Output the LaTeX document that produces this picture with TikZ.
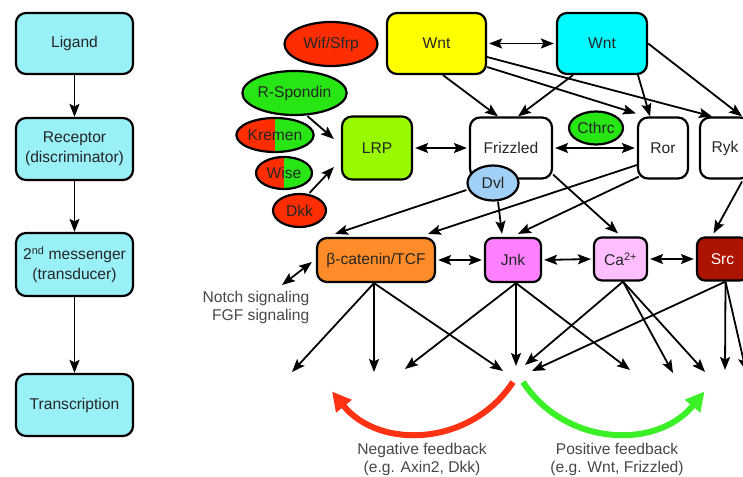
\documentclass[tikz,border=0pt]{standalone}
\usepackage{fontspec}
\setmainfont{Liberation Sans}
\usetikzlibrary{arrows.meta,shapes.geometric,calc}
\definecolor{cyanL}{RGB}{153,240,247}
\definecolor{yelW}{RGB}{255,255,0}
\definecolor{cyanW}{RGB}{0,250,255}
\definecolor{lrpG}{RGB}{153,250,0}
\definecolor{redE}{RGB}{255,45,0}
\definecolor{greenE}{RGB}{40,230,20}
\definecolor{dvlB}{RGB}{160,208,245}
\definecolor{orangeB}{RGB}{255,140,40}
\definecolor{jnkM}{RGB}{255,128,255}
\definecolor{caP}{RGB}{255,190,255}
\definecolor{srcR}{RGB}{170,20,0}
\definecolor{fbRed}{RGB}{255,50,20}
\definecolor{fbGreen}{RGB}{60,240,40}
\tikzset{
  myhead/.tip={Stealth[length=13pt,width=10pt,inset=2.5pt]},
  fbhead/.tip={Triangle[length=19pt,width=19pt]},
  txt/.style={font=\fontsize{15.6}{20}\selectfont, text=black!85},
  gtxt/.style={font=\fontsize{15.6}{18}\selectfont, text=black!72, align=center, inner sep=0pt},
  blk/.style={draw, line width=2.2pt, rounded corners=10pt, inner sep=0pt, align=center, txt},
  sblk/.style={blk, rounded corners=8pt},
  oval/.style={draw, ellipse, line width=2.2pt, inner sep=0pt, txt},
  halfoval/.style={oval, fill=redE, path picture={\fill[greenE] (path picture bounding box.north) rectangle (path picture bounding box.south east);}},
  conn/.style={line width=1.8pt, -myhead},
  dconn/.style={line width=1.8pt, myhead-myhead, shorten <=2pt, shorten >=2pt},
  fbarrow/.style={line width=6pt, -fbhead}
}
\begin{document}
\begin{tikzpicture}[x=1pt,y=-1pt]
\useasboundingbox (0,0) rectangle (743,476);
\clip (0,0) rectangle (743,476);

% left column
\node[blk, fill=cyanL, minimum width=117pt, minimum height=61pt] (lig) at (74.5,43.5) {Ligand};
\node[blk, fill=cyanL, minimum width=117pt, minimum height=62pt] (rec) at (74.5,149) {Receptor\\(discriminator)};
\node[blk, fill=cyanL, minimum width=117pt, minimum height=63pt] (sec) at (74.5,264.5) {2\textsuperscript{nd} messenger\\(transducer)};
\node[blk, fill=cyanL, minimum width=117pt, minimum height=62pt] (tra) at (74.5,405) {Transcription};
\draw[conn] (lig) -- (rec);
\draw[conn] (rec) -- (sec);
\draw[conn] (sec) -- (tra);

% ligands and receptors
\node[blk, fill=yelW, minimum width=99pt, minimum height=61pt] (wntY) at (436.5,43.5) {Wnt};
\node[blk, fill=cyanW, minimum width=90pt, minimum height=61pt] (wntC) at (602,43.5) {Wnt};
\node[blk, fill=white, minimum width=82pt, minimum height=61pt] (fzd) at (511,148) {Frizzled};
\node[blk, fill=white, minimum width=50pt, minimum height=61pt] (ror) at (663,148) {Ror};
\node[blk, fill=white, minimum width=50pt, minimum height=61pt] (ryk) at (725,148) {Ryk};
\node[blk, fill=lrpG, minimum width=70pt, minimum height=63pt] (lrp) at (377,148) {LRP};

\node[oval, fill=redE, minimum width=93pt, minimum height=44pt] (wif) at (331,44) {Wif/Sfrp};
\node[oval, fill=greenE, minimum width=93pt, minimum height=44pt] (rsp) at (294.5,93) {R-Spondin};
\node[halfoval, minimum width=72pt, minimum height=34pt] (kre) at (275,135) {Kremen};
\node[halfoval, minimum width=56pt, minimum height=32pt] (wise) at (284,173) {Wise};
\node[oval, fill=redE, minimum width=53pt, minimum height=33pt] (dkk) at (299.5,210.5) {Dkk};
\node[oval, fill=greenE, minimum width=54pt, minimum height=33pt] (cthrc) at (596,128) {Cthrc};

% second messengers
\node[blk, fill=orangeB, minimum width=118pt, minimum height=44pt] (bcat) at (376,260) {β-catenin/TCF};
\node[sblk, fill=jnkM, minimum width=56pt, minimum height=44pt] (jnk) at (513,260) {Jnk};
\node[sblk, fill=caP, minimum width=53pt, minimum height=43pt] (ca) at (620.5,259) {Ca\textsuperscript{2+}};
\node[sblk, fill=srcR, minimum width=51pt, minimum height=43pt, text=white] (src) at (722.5,259) {Src};

% top connectors
\draw[dconn] (wntY.east) -- (wntC.west);
\draw[conn] ([xshift=6.5pt]wntY.south) -- ([xshift=-13pt]fzd.north);
\draw[conn] ([xshift=-29pt]wntC.south) -- ([xshift=7pt]fzd.north);
\draw[conn] ([yshift=-23.5pt]wntY.east) -- ([xshift=-1pt,yshift=3pt]ror.north west);
\draw[conn] ([yshift=-13.5pt]wntY.east) -- ([xshift=-13pt]ryk.north);
\draw[conn] ([xshift=36pt]wntC.south) -- ([xshift=-13pt]ror.north);
\draw[conn] (wntC.east) -- ([xshift=17pt]ryk.north);
\draw[dconn] (lrp.east) -- (fzd.west);
\draw[dconn] (fzd.east) -- (ror.west);
\draw[conn] ([xshift=13pt]rsp.south) -- ([xshift=-7pt,yshift=9pt]lrp.west);
\draw[conn] ([xshift=10pt]dkk.north) -- ([xshift=-7pt,yshift=-19pt]lrp.west);

% Dvl drawn over Frizzled
\node[oval, fill=dvlB, minimum width=51pt, minimum height=35pt] (dvl) at (493,183) {Dvl};

% middle connectors
\draw[conn] ([yshift=-7pt]dvl.west) -- ([xshift=-41pt,yshift=3pt]bcat.north);
\draw[conn] ([yshift=-17pt]ror.west) -- ([xshift=52pt,yshift=3pt]bcat.north);
\draw[conn] ([xshift=2pt,yshift=3pt]ror.south west) -- ([xshift=5pt,yshift=3pt]jnk.north);
\draw[conn] ([xshift=5pt]dvl.south) -- ([xshift=-11pt,yshift=3pt]jnk.north);
\draw[conn] ([yshift=5pt]fzd.south east) -- ([xshift=-2.5pt,yshift=3pt]ca.north);
\draw[conn] ([xshift=17pt,yshift=-2pt]ryk.south) -- ([xshift=-9pt,yshift=3pt]src.north);

\draw[dconn] (bcat.east) -- (jnk.west);
\draw[dconn] (jnk.east) -- (ca.west);
\draw[dconn] (ca.east) -- (src.west);

% Notch / FGF
\node[gtxt, align=right, anchor=east] (notch) at (309.5,307) {Notch signaling\\FGF signaling};
\coordinate (nfree) at (282,285);
\draw[line width=1.8pt, myhead-myhead] (nfree) -- ([xshift=-4pt,yshift=-2pt]bcat.west);

% fan of outputs
\coordinate (b1) at (292,372);
\coordinate (b2) at (374,372);
\coordinate (b3) at (503,371);
\coordinate (j1) at (405,369);
\coordinate (j2) at (516,366);
\coordinate (j3) at (630,370);
\coordinate (c1) at (525,365);
\coordinate (c2) at (673,373);
\coordinate (c3) at (705,372);
\coordinate (s1) at (532,371);
\coordinate (s2) at (725,370);
\coordinate (s3) at (746,371);
\draw[conn] ([xshift=-2pt]bcat.south) -- (b1);
\draw[conn] ([xshift=-2pt]bcat.south) -- (b2);
\draw[conn] ([xshift=-2pt]bcat.south) -- (b3);
\draw[conn] ([xshift=3pt]jnk.south) -- (j1);
\draw[conn] ([xshift=3pt]jnk.south) -- (j2);
\draw[conn] ([xshift=3pt]jnk.south) -- (j3);
\draw[conn] ([xshift=2.5pt]ca.south) -- (c1);
\draw[conn] ([xshift=2.5pt]ca.south) -- (c2);
\draw[conn] ([xshift=2.5pt]ca.south) -- (c3);
\draw[conn] ([xshift=3pt]src.south) -- (s1);
\draw[conn] ([xshift=3pt]src.south) -- (s2);
\draw[conn] ([xshift=3pt]src.south) -- (s3);

% feedback arcs
\coordinate (rA) at (513,382);
\coordinate (rB) at (332,391.5);
\coordinate (gA) at (523,382);
\coordinate (gB) at (704.5,391.5);
\draw[fbarrow, draw=fbRed] (rA) .. controls (471.4,445.8) and (379.9,450.6) .. (rB);
\draw[fbarrow, draw=fbGreen] (gA) .. controls (564.6,445.8) and (656.1,450.6) .. (gB);
\node[gtxt] (neg) at (422,459) {Negative feedback\\(e.g. Axin2, Dkk)};
\node[gtxt] (pos) at (617,459) {Positive feedback\\(e.g. Wnt, Frizzled)};
\end{tikzpicture}
\end{document}
